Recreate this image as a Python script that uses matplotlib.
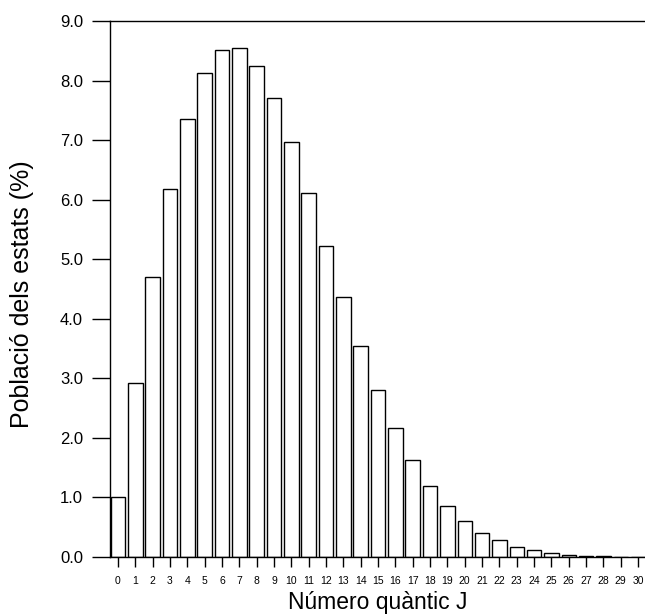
import matplotlib
matplotlib.use("Agg")
import matplotlib.pyplot as plt
import numpy as np

plt.rcParams['font.family'] = ['Liberation Sans', 'DejaVu Sans']

J = list(range(31))
poblacio = [1.00, 2.93, 4.70, 6.18, 7.35, 8.12, 8.51, 8.54, 8.25, 7.70,
            6.97, 6.12, 5.23, 4.37, 3.54, 2.81, 2.17, 1.63, 1.20, 0.86,
            0.60, 0.41, 0.28, 0.17, 0.11, 0.06, 0.035, 0.02, 0.012, 0.007,
            0.004]
yticks = [0.0, 1.0, 2.0, 3.0, 4.0, 5.0, 6.0, 7.0, 8.0, 9.0]

fig = plt.figure(figsize=(6.45, 6.16), dpi=100)
ax = fig.add_axes([110/645, 1 - 557/616, 1 - 110/645, (557 - 21)/616])

ax.bar(J, poblacio, width=0.83, color='white', edgecolor='black', linewidth=1.0)

ax.set_xlim(-0.46, 30.4)
ax.set_ylim(0, 9.0)
ax.set_yticks(yticks)
ax.set_yticklabels([f"{v:.1f}" for v in yticks], fontsize=12)
ax.set_xticks(J)
ax.set_xticklabels([str(j) for j in J], fontsize=7.5)
ax.tick_params(axis='y', direction='out', length=13, width=1.0, pad=6.5)
ax.tick_params(axis='x', direction='out', length=7, width=1.0, pad=6.5)

ax.spines['right'].set_visible(False)
for s in ['left', 'top', 'bottom']:
    ax.spines[s].set_linewidth(1.0)

ax.set_ylabel("Població dels estats (%)", fontsize=18, va='center')
ax.yaxis.set_label_coords(22/645, 1 - 294/616, transform=fig.transFigure)
ax.set_xlabel("Número quàntic J", fontsize=16.5, va='baseline')
ax.xaxis.set_label_coords(378/645, 1 - 609/616, transform=fig.transFigure)

fig.savefig("out.png", dpi=100)
